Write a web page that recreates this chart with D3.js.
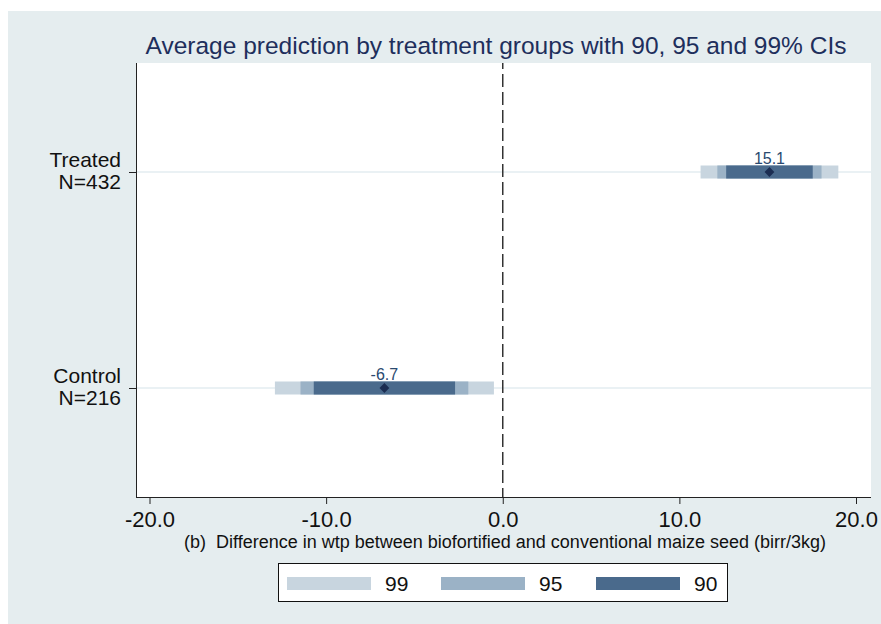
<!DOCTYPE html>
<html><head><meta charset="utf-8">
<script src="https://cdn.jsdelivr.net/npm/d3@7"></script>
<style>body{margin:0;background:#fff;} svg{display:block;font-family:"Liberation Sans",Arial,sans-serif;}</style>
</head><body>
<svg id="c" width="881" height="624"></svg>
<script>
const groups = ["Treated", "Control"];
const groupN = ["N=432", "N=216"];
const estimates = [15.1, -6.7];
const ci99 = [[11.2, 19.0], [-12.9, -0.5]];
const ci95 = [[12.15, 18.05], [-11.45, -1.95]];
const ci90 = [[12.65, 17.55], [-10.7, -2.7]];
const xTicks = [-20, -10, 0, 10, 20];
const levels = ["99", "95", "90"];
const levelColors = ["#c8d5df", "#9bb2c6", "#4a6a8c"];

const svg = d3.select("#c");
svg.append("rect").attr("x", 8).attr("y", 11).attr("width", 873).attr("height", 613).attr("fill", "#e5edef");

const L = 136, R = 871, T = 63, B = 497;
svg.append("rect").attr("x", L).attr("y", T).attr("width", R - L).attr("height", B - T).attr("fill", "#fff");

const x = d3.scaleLinear().domain([-20, 20]).range([149.5, 856]);
const y = d3.scalePoint().domain(groups).range([172, 388]);

// grid lines
svg.selectAll(".grid").data(groups).enter().append("line")
  .attr("x1", L).attr("x2", R).attr("y1", d => y(d)).attr("y2", d => y(d))
  .attr("stroke", "#e3edf0").attr("stroke-width", 1.5);

// dashed zero line
svg.append("line").attr("x1", x(0)).attr("x2", x(0)).attr("y1", T).attr("y2", B)
  .attr("stroke", "#333").attr("stroke-width", 1.5)
  .attr("stroke-dasharray", "13,5").attr("stroke-dashoffset", 7);

// CI bars
const cis = [ci99, ci95, ci90];
const bh = 13;
cis.forEach((ci, li) => {
  svg.selectAll(".ci" + li).data(groups).enter().append("rect")
    .attr("x", (d, i) => x(ci[i][0]))
    .attr("width", (d, i) => x(ci[i][1]) - x(ci[i][0]))
    .attr("y", d => y(d) - bh / 2).attr("height", bh)
    .attr("fill", levelColors[li]);
});

// points (square diamonds)
svg.selectAll(".pt").data(groups).enter().append("path")
  .attr("d", d3.symbol(d3.symbolSquare, 48))
  .attr("transform", (d, i) => `translate(${x(estimates[i])},${y(d)}) rotate(45)`)
  .attr("fill", "#1b2d52");

svg.selectAll(".lbl").data(groups).enter().append("text")
  .attr("x", (d, i) => x(estimates[i])).attr("y", d => y(d) - 8)
  .attr("text-anchor", "middle").attr("font-size", 16).attr("fill", "#2a4a70")
  .text((d, i) => estimates[i].toFixed(1));

// x axis
const xa = svg.append("g").attr("transform", `translate(0,${B})`)
  .call(d3.axisBottom(x).tickValues(xTicks).tickSize(7).tickPadding(7).tickFormat(d => d.toFixed(1)));
xa.select(".domain").attr("d", `M${L},0.5H${R}`).attr("stroke", "#222");
xa.selectAll(".tick line").attr("stroke", "#222");
xa.selectAll(".tick text").attr("font-size", 22).attr("fill", "#111")
  .attr("font-family", "Liberation Sans, Arial, sans-serif").attr("dy", "0.71em");

// y axis
const ya = svg.append("g").attr("transform", `translate(${L},0)`)
  .call(d3.axisLeft(y).tickSize(7).tickFormat(""));
ya.select(".domain").attr("d", `M0.5,${T}V${B}`).attr("stroke", "#222");
ya.selectAll(".tick line").attr("stroke", "#222");
groups.forEach((g, i) => {
  const t = svg.append("text").attr("x", 121).attr("y", y(g) - 5)
    .attr("text-anchor", "end").attr("font-size", 21).attr("fill", "#111");
  t.append("tspan").attr("x", 121).attr("dy", 0).text(g);
  t.append("tspan").attr("x", 121).attr("dy", 22).text(groupN[i]);
});

// titles
svg.append("text").attr("x", 496).attr("y", 54).attr("text-anchor", "middle")
  .attr("font-size", 24.5).attr("fill", "#1e2f5c")
  .text("Average prediction by treatment groups with 90, 95 and 99% CIs");
svg.append("text").attr("x", 505).attr("y", 548).attr("text-anchor", "middle")
  .attr("font-size", 18).attr("fill", "#111").attr("xml:space", "preserve")
  .style("white-space", "pre")
  .text("(b)  Difference in wtp between biofortified and conventional maize seed (birr/3kg)");

// legend
svg.append("rect").attr("x", 278.5).attr("y", 563.5).attr("width", 449).attr("height", 38)
  .attr("fill", "#fff").attr("stroke", "#111").attr("stroke-width", 1);
const lx = [287, 441, 596];
levels.forEach((lv, i) => {
  svg.append("rect").attr("x", lx[i]).attr("y", 577).attr("width", 84).attr("height", 13).attr("fill", levelColors[i]);
  svg.append("text").attr("x", lx[i] + 98).attr("y", 591).attr("font-size", 21).attr("fill", "#111").text(lv);
});
</script>
</body></html>
